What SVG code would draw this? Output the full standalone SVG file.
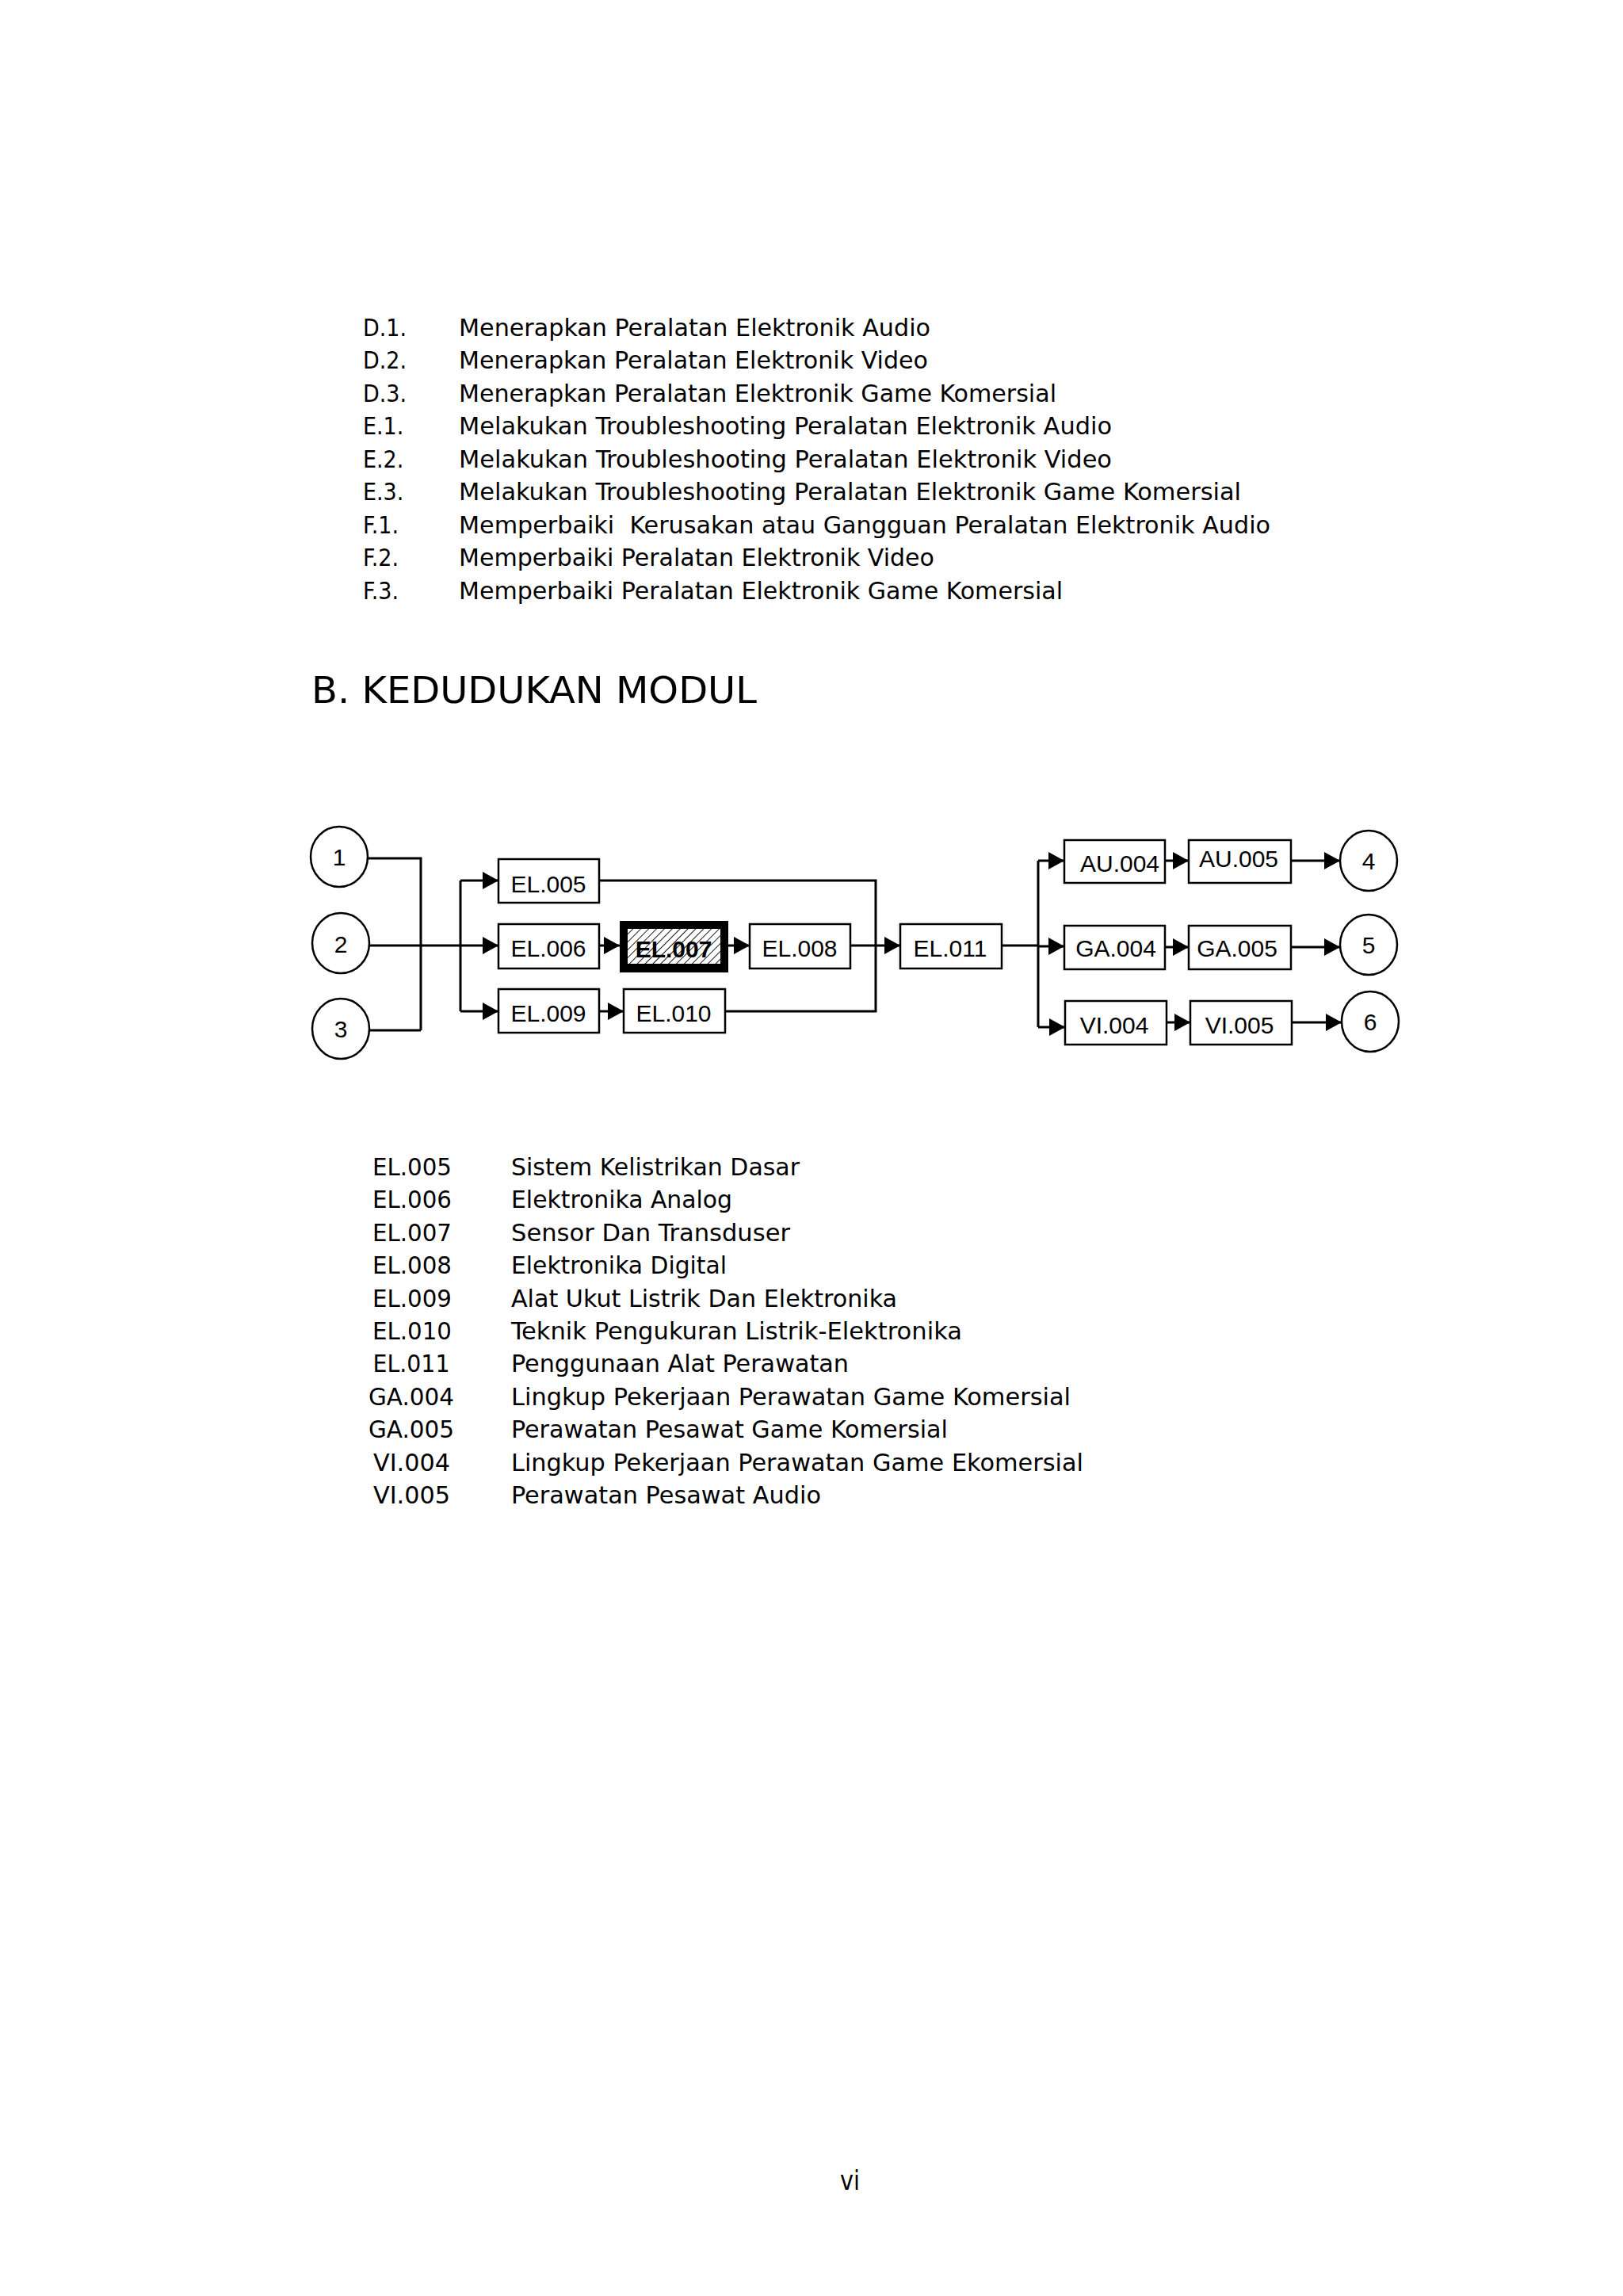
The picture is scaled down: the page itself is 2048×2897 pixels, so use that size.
<svg xmlns="http://www.w3.org/2000/svg" width="2048" height="2897" viewBox="0 0 2048 2897">
<defs>
<style>
.t{font-family:"DejaVu Sans Condensed","DejaVu Sans","Liberation Sans",sans-serif;font-size:30px;fill:#000}
.h{font-family:"DejaVu Sans Condensed","DejaVu Sans","Liberation Sans",sans-serif;font-size:46px;fill:#000}
.d{font-family:"Liberation Sans",Arial,sans-serif;font-size:30px;fill:#000;text-anchor:middle}
.box{fill:#fff;stroke:#000;stroke-width:2.5}
.circ{fill:#fff;stroke:#000;stroke-width:2.5}
.conn{fill:none;stroke:#000;stroke-width:3}
.arr{fill:none;stroke:#000;stroke-width:3;marker-end:url(#ah)}
</style>
<marker id="ah" markerUnits="userSpaceOnUse" markerWidth="21" markerHeight="22" refX="20" refY="11" orient="auto">
<path d="M0,0 L20,11 L0,22 Z" fill="#000"/>
</marker>
<pattern id="hatch" width="7" height="7" patternUnits="userSpaceOnUse" patternTransform="rotate(45)">
<rect width="7" height="7" fill="#fff"/>
<line x1="0" y1="0" x2="0" y2="7" stroke="#000" stroke-width="1.8"/>
</pattern>
</defs>
<rect width="2048" height="2897" fill="#fff"/>

<g id="list">
<text class="t" x="458" y="423.5">D.1.</text><text class="t" x="579" y="423.5" textLength="595" lengthAdjust="spacingAndGlyphs">Menerapkan Peralatan Elektronik Audio</text>
<text class="t" x="458" y="465">D.2.</text><text class="t" x="579" y="465" textLength="592" lengthAdjust="spacingAndGlyphs">Menerapkan Peralatan Elektronik Video</text>
<text class="t" x="458" y="506.5">D.3.</text><text class="t" x="579" y="506.5" textLength="754" lengthAdjust="spacingAndGlyphs">Menerapkan Peralatan Elektronik Game Komersial</text>
<text class="t" x="458" y="548">E.1.</text><text class="t" x="579" y="548" textLength="824" lengthAdjust="spacingAndGlyphs">Melakukan Troubleshooting Peralatan Elektronik Audio</text>
<text class="t" x="458" y="589.5">E.2.</text><text class="t" x="579" y="589.5" textLength="824" lengthAdjust="spacingAndGlyphs">Melakukan Troubleshooting Peralatan Elektronik Video</text>
<text class="t" x="458" y="631">E.3.</text><text class="t" x="579" y="631" textLength="987" lengthAdjust="spacingAndGlyphs">Melakukan Troubleshooting Peralatan Elektronik Game Komersial</text>
<text class="t" x="458" y="672.5">F.1.</text><text class="t" x="579" y="672.5" textLength="1024" lengthAdjust="spacingAndGlyphs" xml:space="preserve">Memperbaiki  Kerusakan atau Gangguan Peralatan Elektronik Audio</text>
<text class="t" x="458" y="714">F.2.</text><text class="t" x="579" y="714" textLength="600" lengthAdjust="spacingAndGlyphs">Memperbaiki Peralatan Elektronik Video</text>
<text class="t" x="458" y="755.5">F.3.</text><text class="t" x="579" y="755.5" textLength="762" lengthAdjust="spacingAndGlyphs">Memperbaiki Peralatan Elektronik Game Komersial</text>
</g>

<text id="heading" class="h" x="393" y="887" textLength="562" lengthAdjust="spacingAndGlyphs">B. KEDUDUKAN MODUL</text>

<g id="connectors">
<path class="conn" d="M463,1083 H531 V1300 M466,1300 H531"/>
<path class="arr" d="M466,1193 H629"/>
<path class="conn" d="M581,1111 V1276"/>
<path class="arr" d="M581,1111 H629"/>
<path class="arr" d="M581,1276 H629"/>
<path class="arr" d="M756,1193 H782"/>
<path class="arr" d="M919,1193 H946"/>
<path class="arr" d="M756,1276 H787"/>
<path class="conn" d="M756,1111 H1105 V1276 H915"/>
<path class="arr" d="M1073,1193 H1136"/>
<path class="conn" d="M1264,1193 H1310 M1310,1086 V1296"/>
<path class="arr" d="M1310,1086 H1343"/>
<path class="arr" d="M1310,1194 H1343"/>
<path class="arr" d="M1310,1296 H1344"/>
<path class="arr" d="M1470,1086 H1500"/>
<path class="arr" d="M1629,1086 H1691"/>
<path class="arr" d="M1470,1195 H1500"/>
<path class="arr" d="M1629,1195 H1691"/>
<path class="arr" d="M1472,1290 H1502"/>
<path class="arr" d="M1630,1290 H1693"/>
</g>

<g id="n1"><ellipse class="circ" cx="428" cy="1081" rx="36" ry="38"/><text class="d" x="428" y="1092">1</text></g>
<g id="n2"><ellipse class="circ" cx="430" cy="1190" rx="36" ry="38"/><text class="d" x="430" y="1202">2</text></g>
<g id="n3"><ellipse class="circ" cx="430" cy="1298" rx="36" ry="38"/><text class="d" x="430" y="1309">3</text></g>

<g id="el005"><rect class="box" x="629" y="1084" width="127" height="55"/><text class="d" x="692" y="1126">EL.005</text></g>
<g id="el006"><rect class="box" x="629" y="1166" width="127" height="56"/><text class="d" x="692" y="1207">EL.006</text></g>
<g id="el007"><rect x="782" y="1162" width="137" height="65" fill="#000"/><rect x="792" y="1172" width="117" height="44" fill="url(#hatch)"/><text class="d" x="850" y="1208" font-weight="bold">EL.007</text></g>
<g id="el008"><rect class="box" x="946" y="1166" width="127" height="56"/><text class="d" x="1009" y="1207">EL.008</text></g>
<g id="el009"><rect class="box" x="629" y="1248" width="127" height="55"/><text class="d" x="692" y="1289">EL.009</text></g>
<g id="el010"><rect class="box" x="787" y="1248" width="128" height="55"/><text class="d" x="850" y="1289">EL.010</text></g>
<g id="el011"><rect class="box" x="1136" y="1166" width="128" height="56"/><text class="d" x="1199" y="1207">EL.011</text></g>
<g id="au004"><rect class="box" x="1343" y="1060" width="127" height="54"/><text class="d" x="1413" y="1100">AU.004</text></g>
<g id="au005"><rect class="box" x="1500" y="1060" width="129" height="54"/><text class="d" x="1563" y="1094">AU.005</text></g>
<g id="ga004"><rect class="box" x="1343" y="1168" width="127" height="55"/><text class="d" x="1408" y="1207">GA.004</text></g>
<g id="ga005"><rect class="box" x="1500" y="1168" width="129" height="55"/><text class="d" x="1561" y="1207">GA.005</text></g>
<g id="vi004"><rect class="box" x="1344" y="1263" width="128" height="55"/><text class="d" x="1406" y="1304">VI.004</text></g>
<g id="vi005"><rect class="box" x="1502" y="1263" width="128" height="55"/><text class="d" x="1564" y="1304">VI.005</text></g>

<g id="n4"><ellipse class="circ" cx="1727" cy="1086" rx="36" ry="38"/><text class="d" x="1727" y="1097">4</text></g>
<g id="n5"><ellipse class="circ" cx="1727" cy="1192" rx="36" ry="38"/><text class="d" x="1727" y="1203">5</text></g>
<g id="n6"><ellipse class="circ" cx="1729" cy="1289" rx="36" ry="38"/><text class="d" x="1729" y="1300">6</text></g>

<g id="legend">
<text class="t" x="520" y="1483" text-anchor="middle" textLength="100" lengthAdjust="spacingAndGlyphs">EL.005</text>
<text class="t" x="520" y="1524.4" text-anchor="middle" textLength="100" lengthAdjust="spacingAndGlyphs">EL.006</text>
<text class="t" x="520" y="1565.8" text-anchor="middle" textLength="100" lengthAdjust="spacingAndGlyphs">EL.007</text>
<text class="t" x="520" y="1607.2" text-anchor="middle" textLength="100" lengthAdjust="spacingAndGlyphs">EL.008</text>
<text class="t" x="520" y="1648.6" text-anchor="middle" textLength="100" lengthAdjust="spacingAndGlyphs">EL.009</text>
<text class="t" x="520" y="1690" text-anchor="middle" textLength="100" lengthAdjust="spacingAndGlyphs">EL.010</text>
<text class="t" x="519" y="1731.4" text-anchor="middle" textLength="97" lengthAdjust="spacingAndGlyphs">EL.011</text>
<text class="t" x="519" y="1772.8" text-anchor="middle" textLength="108" lengthAdjust="spacingAndGlyphs">GA.004</text>
<text class="t" x="519" y="1814.2" text-anchor="middle" textLength="108" lengthAdjust="spacingAndGlyphs">GA.005</text>
<text class="t" x="519.5" y="1855.6" text-anchor="middle" textLength="97" lengthAdjust="spacingAndGlyphs">VI.004</text>
<text class="t" x="519.5" y="1897" text-anchor="middle" textLength="97" lengthAdjust="spacingAndGlyphs">VI.005</text>
<text class="t" x="645" y="1483" textLength="364" lengthAdjust="spacingAndGlyphs">Sistem Kelistrikan Dasar</text>
<text class="t" x="645" y="1524.4" textLength="279" lengthAdjust="spacingAndGlyphs">Elektronika Analog</text>
<text class="t" x="645" y="1565.8" textLength="352" lengthAdjust="spacingAndGlyphs">Sensor Dan Transduser</text>
<text class="t" x="645" y="1607.2" textLength="272" lengthAdjust="spacingAndGlyphs">Elektronika Digital</text>
<text class="t" x="645" y="1648.6" textLength="487" lengthAdjust="spacingAndGlyphs">Alat Ukut Listrik Dan Elektronika</text>
<text class="t" x="645" y="1690" textLength="569" lengthAdjust="spacingAndGlyphs">Teknik Pengukuran Listrik-Elektronika</text>
<text class="t" x="645" y="1731.4" textLength="426" lengthAdjust="spacingAndGlyphs">Penggunaan Alat Perawatan</text>
<text class="t" x="645" y="1772.8" textLength="706" lengthAdjust="spacingAndGlyphs">Lingkup Pekerjaan Perawatan Game Komersial</text>
<text class="t" x="645" y="1814.2" textLength="551" lengthAdjust="spacingAndGlyphs">Perawatan Pesawat Game Komersial</text>
<text class="t" x="645" y="1855.6" textLength="722" lengthAdjust="spacingAndGlyphs">Lingkup Pekerjaan Perawatan Game Ekomersial</text>
<text class="t" x="645" y="1897" textLength="391" lengthAdjust="spacingAndGlyphs">Perawatan Pesawat Audio</text>
</g>

<text id="page" class="t" x="1060" y="2763" style="font-size:33px" textLength="25" lengthAdjust="spacingAndGlyphs">vi</text>
</svg>
